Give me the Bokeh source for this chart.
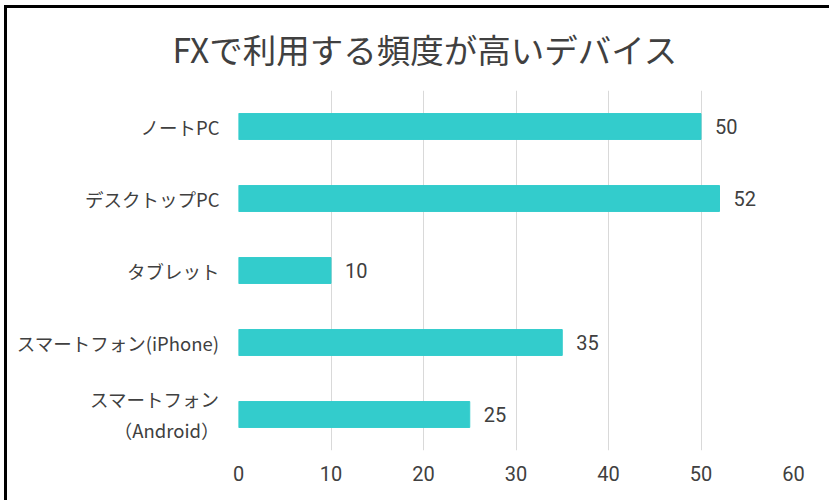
from bokeh.plotting import figure
from bokeh.models import FactorRange, Range1d, FixedTicker, ColumnDataSource
from bokeh.core.properties import value
from bokeh.embed import file_html
from bokeh.resources import INLINE

title_text = "FXで利用する頻度が高いデバイス"
categories = ["ノートPC", "デスクトップPC", "タブレット", "スマートフォン(iPhone)", "スマートフォン\n（Android）"]
values = [50, 52, 10, 35, 25]
x_ticks = [0, 10, 20, 30, 40, 50, 60]

FONT = "Noto Sans CJK JP"
NUM_FONT = "Roboto"
TEXT_COLOR = "#404040"
BAR_COLOR = "#33CCCC"

source = ColumnDataSource(data=dict(cat=categories, val=values, lbl=[str(v) for v in values]))

p = figure(
    width=829, height=500,
    y_range=FactorRange(factors=list(reversed(categories))),
    x_range=Range1d(0, 60),
    output_backend="svg", toolbar_location=None,
    min_border_left=238, min_border_right=36, min_border_top=90, min_border_bottom=50,
)

p.hbar(y="cat", left=0, right="val", height=0.36, source=source,
       fill_color=BAR_COLOR, line_color=BAR_COLOR)
p.text(x="val", y="cat", text="lbl", source=source, x_offset=14,
       text_align="left", text_baseline="middle", text_font=value(NUM_FONT),
       text_font_size="20px", text_color=TEXT_COLOR)

p.title.text = title_text
p.title.align = "left"
p.title.offset = -66
p.title.text_font = FONT
p.title.text_font_size = "33.5px"
p.title.text_font_style = "normal"
p.title.text_color = TEXT_COLOR
p.title.standoff = 36

p.xaxis.ticker = FixedTicker(ticks=x_ticks)
for ax in (p.xaxis[0], p.yaxis[0]):
    ax.axis_line_color = None
    ax.major_tick_line_color = None
    ax.minor_tick_line_color = None
    ax.major_label_text_color = TEXT_COLOR
p.yaxis.major_label_text_font = FONT
p.yaxis.major_label_text_font_size = "18.5px"
p.yaxis.major_label_standoff = 13
p.xaxis.major_label_text_font = NUM_FONT
p.xaxis.major_label_text_font_size = "20px"
p.xaxis.major_label_standoff = 9

p.xgrid.grid_line_color = "#d9d9d9"
p.ygrid.grid_line_color = None
p.outline_line_color = None
p.background_fill_color = "white"
p.border_fill_color = None
p.styles = {"background-color": "white",
            "box-shadow": "inset 4px 5px 0 0 white, inset 7px 8px 0 0 black"}

open("out.html", "w").write(file_html(p, INLINE))
